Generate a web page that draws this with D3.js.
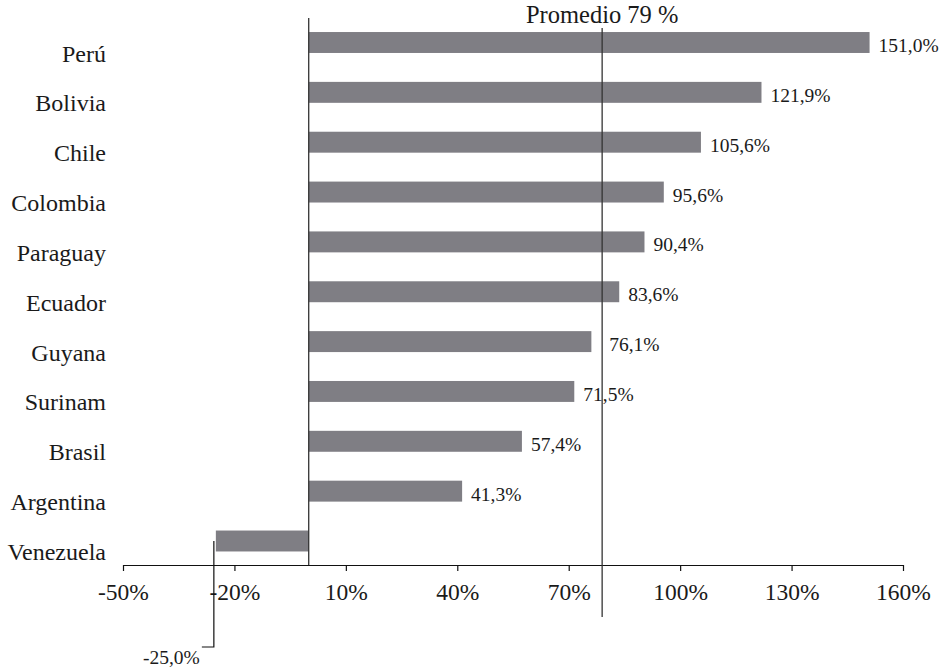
<!DOCTYPE html>
<html>
<head>
<meta charset="utf-8">
<script src="https://cdn.jsdelivr.net/npm/d3@7"></script>
<style>
  html, body { margin: 0; padding: 0; background: #ffffff; }
  svg { display: block; }
</style>
</head>
<body>
<script>
// Countries, top to bottom
const countries = ["Perú", "Bolivia", "Chile", "Colombia", "Paraguay", "Ecuador",
                   "Guyana", "Surinam", "Brasil", "Argentina", "Venezuela"];
// Variation (%)
const values = [151.0, 121.9, 105.6, 95.6, 90.4, 83.6, 76.1, 71.5, 57.4, 41.3, -25.0];
// Axis ticks (%)
const tickValues = [-50, -20, 10, 40, 70, 100, 130, 160];
// Regional average (%)
const averageValue = 79;
const averageLabel = "Promedio 79 %";

const FONT = "'Liberation Serif', 'DejaVu Serif', 'Times New Roman', serif";
const INK = "#1a1a1a";

const W = 950, H = 669;
const svg = d3.select("body").append("svg").attr("width", W).attr("height", H);

const x = d3.scaleLinear().domain([-50, 160]).range([123, 903]);
const y = d3.scalePoint().domain(countries).range([42.5, 541]);
const barH = y.step() * 0.42;
const axisY = 565;

const esLocale = d3.formatLocale({ decimal: ",", thousands: ".", grouping: [3], currency: ["", " €"], minus: "-" });
const fmtVal = v => esLocale.format(".1f")(v) + "%";
const fmtTick = v => esLocale.format("d")(v) + "%";

const rows = countries.map((c, i) => ({ name: c, value: values[i] }));

// Bars
svg.append("g").selectAll("rect").data(rows).join("rect")
  .attr("x", d => x(Math.min(0, d.value)))
  .attr("y", d => y(d.name) - barH / 2)
  .attr("width", d => Math.abs(x(d.value) - x(0)))
  .attr("height", barH)
  .attr("fill", "#7f7e84");

// Zero line
svg.append("line")
  .attr("x1", x(0)).attr("x2", x(0))
  .attr("y1", 18).attr("y2", axisY)
  .attr("stroke", "#333").attr("stroke-width", 1.3);

// Bottom axis
const axis = d3.axisBottom(x).tickValues(tickValues).tickSize(6).tickSizeOuter(0).tickFormat(fmtTick);
const gAxis = svg.append("g").attr("transform", `translate(0,${axisY})`).call(axis)
  .attr("font-family", null).attr("font-size", null);
gAxis.select(".domain").attr("stroke", "#111").attr("stroke-width", 1.2);
gAxis.selectAll(".tick line").attr("stroke", "#111").attr("stroke-width", 1.2);
gAxis.selectAll(".tick text")
  .attr("y", 0).attr("dy", 0)
  .attr("transform", "translate(0,35)")
  .style("font-family", FONT)
  .style("font-size", "23.5px")
  .attr("fill", INK);

// Average line and its label
const ax = x(averageValue);
svg.append("line")
  .attr("x1", ax).attr("x2", ax)
  .attr("y1", 28).attr("y2", 617)
  .attr("stroke", "#333").attr("stroke-width", 1.3);
svg.append("text")
  .attr("x", ax).attr("y", 23)
  .attr("text-anchor", "middle")
  .style("font-family", FONT)
  .style("font-size", "24.5px")
  .attr("fill", INK)
  .text(averageLabel);

// Category labels
svg.append("g").selectAll("text").data(rows).join("text")
  .attr("x", 106)
  .attr("y", d => y(d.name) + 19)
  .attr("text-anchor", "end")
  .style("font-family", FONT)
  .style("font-size", "24px")
  .attr("fill", INK)
  .text(d => d.name);

// Value labels for positive bars (moved past the average line when they would sit on it)
svg.append("g").selectAll("text").data(rows.filter(d => d.value >= 0)).join("text")
  .attr("x", d => {
    const end = x(d.value);
    let lx = end + 9;
    if (end < ax && lx > ax - 10) lx = ax + 7;
    return lx;
  })
  .attr("y", d => y(d.name) + 9.5)
  .style("font-family", FONT)
  .style("font-size", "19.5px")
  .attr("fill", INK)
  .text(d => fmtVal(d.value));

// Leader and label for the negative bar
rows.filter(d => d.value < 0).forEach(d => {
  const bx = x(d.value) - 2;
  const by = y(d.name);
  svg.append("polyline")
    .attr("points", `${bx},${by} ${bx},647 ${bx - 12},647`)
    .attr("fill", "none")
    .attr("stroke", "#111").attr("stroke-width", 1.2);
  svg.append("text")
    .attr("x", bx - 14).attr("y", 664)
    .attr("text-anchor", "end")
    .style("font-family", FONT)
    .style("font-size", "19.5px")
    .attr("fill", INK)
    .text(fmtVal(d.value));
});
</script>
</body>
</html>
